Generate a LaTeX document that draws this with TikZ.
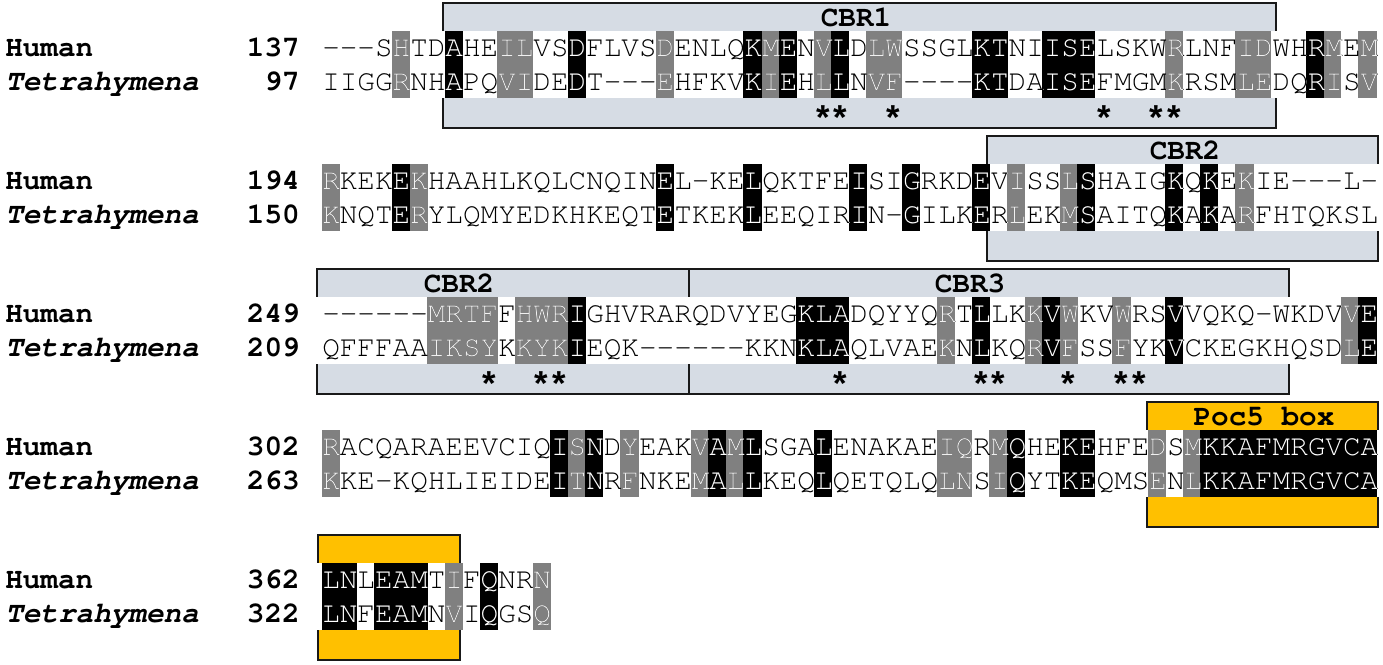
\documentclass[tikz,border=0pt]{standalone}
\usepackage{fontspec}
\setmonofont{TeX Gyre Cursor}[Ligatures=TeXOff]
\newfontfamily\starfont{Liberation Sans}
\usepackage{xcolor}
\usepackage{tikz}
\definecolor{simgray}{RGB}{128,128,128}
\definecolor{regionblue}{RGB}{214,220,228}
\definecolor{pocorange}{RGB}{255,192,0}
\definecolor{edgedark}{RGB}{25,25,25}

\newcommand{\colw}{17.57}
\newcommand{\colzero}{322}

\tikzset{
  seqtext/.style={inner sep=0pt, anchor=base west, font=\ttfamily\fontsize{22}{26}\selectfont},
  spname/.style={inner sep=0pt, anchor=base west, font=\ttfamily\bfseries\fontsize{22}{26}\selectfont},
  tetname/.style={spname, font=\ttfamily\bfseries\itshape\fontsize{22}{26}\selectfont},
  resnum/.style={inner sep=0pt, anchor=base east, font=\ttfamily\bfseries\fontsize{22}{26}\selectfont},
  regionline/.style={draw=edgedark, line width=1.3pt},
  regionlabel/.style={inner sep=0pt, anchor=base, font=\ttfamily\bfseries\fontsize{22}{26}\selectfont},
  consstar/.style={inner sep=0pt, anchor=base, font=\starfont\bfseries\fontsize{26}{30}\selectfont}
}

% one block of the alignment: tag, y offset, numbers, sequences, gray and black columns
\newcommand{\alignblock}[8]{%
  \fill[white] (310,31+#2) rectangle (1383,98+#2);
  \foreach \c in {#7} {\fill[simgray] (\colzero+\c*\colw-0.3,31+#2) rectangle (\colzero+\c*\colw+\colw+0.3,98+#2);}
  \foreach \c in {#8} {\fill[black] (\colzero+\c*\colw-0.3,31+#2) rectangle (\colzero+\c*\colw+\colw+0.3,98+#2);}
  \node[spname] (hum#1) at (5,56.5+#2) {Human};
  \node[tetname] (tet#1) at (5,90+#2) {Tetrahymena};
  \node[resnum] (humnum#1) at (300,56.5+#2) {#3};
  \node[resnum] (tetnum#1) at (300,90+#2) {#5};
  \node[seqtext] (humseq#1) at (\colzero,56.5+#2) {#4};
  \node[seqtext] (tetseq#1) at (\colzero,90+#2) {#6};
  \begin{scope}
    \clip \foreach \c in {#7} {(\colzero+\c*\colw,31+#2) rectangle ++(\colw,67)};
    \node[seqtext, text=gray!12] (humgr#1) at (\colzero,56.5+#2) {#4};
    \node[seqtext, text=gray!12] (tetgr#1) at (\colzero,90+#2) {#6};
  \end{scope}
  \begin{scope}
    \clip \foreach \c in {#8} {(\colzero+\c*\colw,31+#2) rectangle ++(\colw,67)};
    \node[seqtext, text=white] (humbk#1) at (\colzero,56.5+#2) {#4};
    \node[seqtext, text=white] (tetbk#1) at (\colzero,90+#2) {#6};
  \end{scope}
}

\newcommand{\regionbox}[7]{%
  \draw[regionline, fill=#5] (#2,3+#4) rectangle (#3,128+#4);
  \node[regionlabel] (#1) at (#7,26+#4) {#6};
}

\newcommand{\starrow}[3]{%
  \foreach \c in {#3} {\node[consstar] (star#1\c) at (\colzero+\c*\colw+\colw/2,129+#2) {*};}
}

\begin{document}
\begin{tikzpicture}[x=0.75pt, y=-0.75pt]
  \useasboundingbox (0,0) rectangle (1383,664);

  % block 1
  \regionbox{cbrone}{443}{1276}{0}{regionblue}{CBR1}{856}
  \alignblock{a}{0}{137}{---SHTDAHEILVSDFLVSDENLQKMENVLDLWSSGLKTNIISELSKWRLNFIDWHRMEM}
    {97}{IIGGRNHAPQVIDEDT---EHFKVKIEHLLNVF----KTDAISEFMGMKRSMLEDQRISV}
    {4,10,11,19,25,28,31,32,48,52,53,57,59}{7,14,24,26,29,37,38,41,42,43,56}
  \starrow{a}{0}{28,29,32,44,47,48}

  % block 2
  \regionbox{cbrtwoa}{987}{1378}{133}{regionblue}{CBR2}{1185}
  \alignblock{b}{133}{194}{RKEKEKHAAHLKQLCNQINEL-KELQKTFEISIGRKDEVISSLSHAIGKQKEKIE---L-}
    {150}{KNQTERYLQMYEDKHKEQTETKEKLEEQIRIN-GILKERLEKMSAITQKAKARFHTQKSL}
    {0,5,39,42,52}{4,19,24,30,33,37,43,48,50}

  % block 3
  \regionbox{cbrtwob}{317}{689}{266}{regionblue}{CBR2}{459}
  \regionbox{cbrthree}{689}{1289}{266}{regionblue}{CBR3}{970}
  \alignblock{c}{266}{249}{------MRTFFHWRIGHVRARQDVYEGKLADQYYQRTLLKKVWKVWRSVVQKQ-WKDVVE}
    {209}{QFFFAAIKSYKKYKIEQK------KKNKLAQLVAEKNLKQRVFSSFYKVCKEGKHQSDLE}
    {6,7,8,9,11,12,13,35,40,42,45,58}{14,27,28,29,37,41,48,59}
  \starrow{c}{266}{9,12,13,29,37,38,42,45,46}

  % block 4
  \regionbox{pocboxa}{1147}{1378}{399}{pocorange}{Poc5 box}{1264}
  \alignblock{d}{399}{302}{RACQARAEEVCIQISNDYEAKVAMLSGALENAKAEIQRMQHEKEHFEDSMKKAFMRGVCA}
    {263}{KKE-KQHLIEIDEITNRFNKEMALLKEQLQETQLQLNSIQYTKEQMSENLKKAFMRGVCA}
    {0,14,17,21,23,35,36,38,47,49}{13,15,22,24,28,39,42,43,50,51,52,53,54,55,56,57,58,59}

  % block 5
  \regionbox{pocboxb}{318}{460}{532}{pocorange}{}{389}
  \alignblock{e}{532}{362}{LNLEAMTIFQNRN}{322}{LNFEAMNVIQGSQ}
    {7,12}{0,1,3,4,5,9}
\end{tikzpicture}
\end{document}
